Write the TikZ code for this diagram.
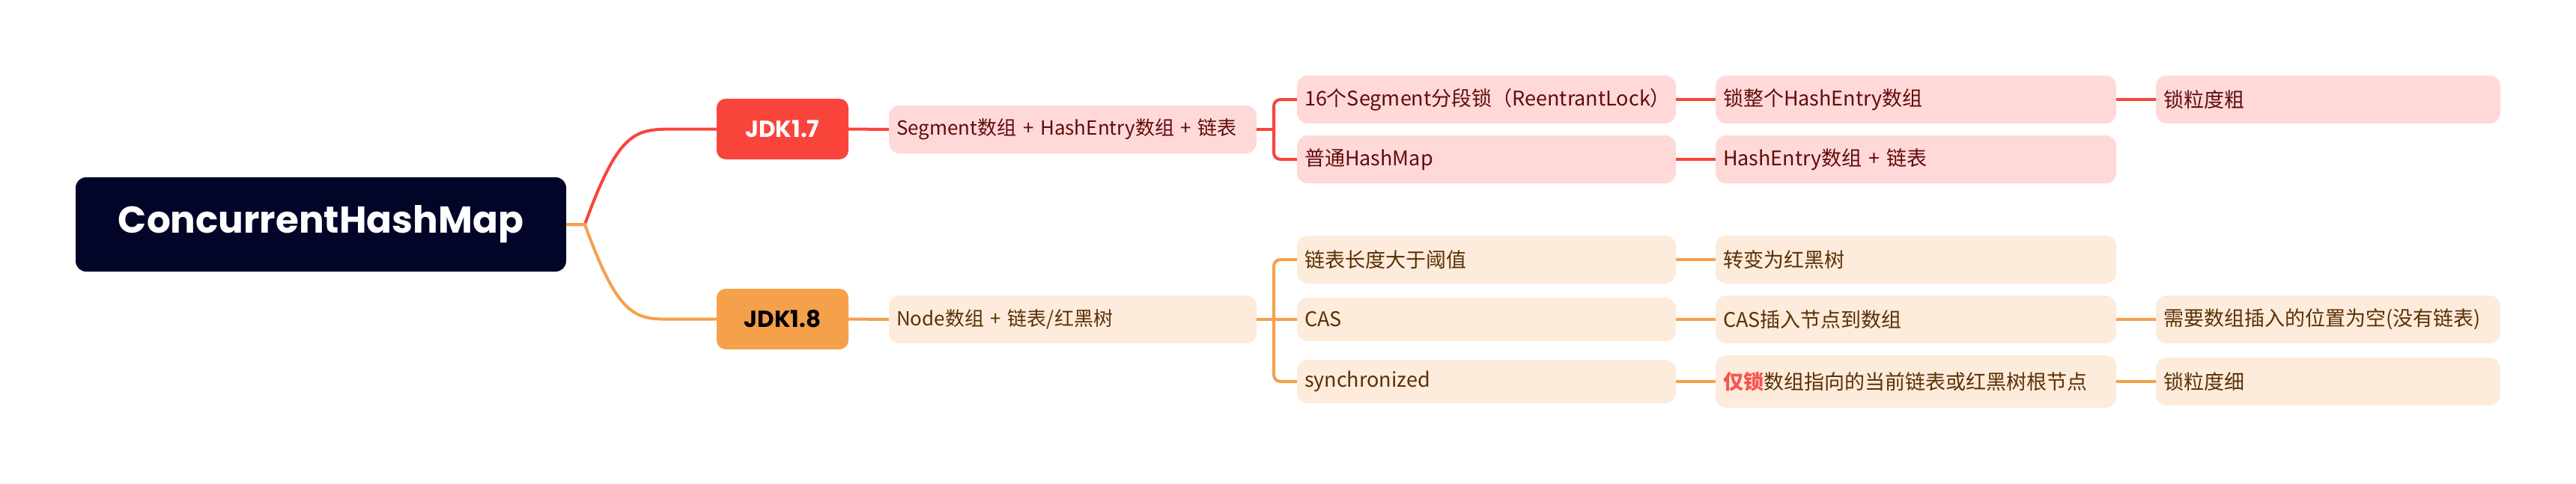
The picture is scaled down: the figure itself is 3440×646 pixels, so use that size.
\documentclass[tikz,border=0pt]{standalone}
\usepackage{fontspec}
\setmainfont{Noto Sans CJK SC}
\newfontfamily\popp{Poppins}
\definecolor{rootc}{HTML}{020428}
\definecolor{redc}{HTML}{F9443C}
\definecolor{orac}{HTML}{F5A04B}
\definecolor{redbg}{HTML}{FFD9D8}
\definecolor{orabg}{HTML}{FDEBDC}
\definecolor{redtx}{HTML}{620B0B}
\definecolor{oratx}{HTML}{5A3103}
\definecolor{hil}{HTML}{F9534F}
\tikzset{
  rootbox/.style={fill=rootc, rounded corners=14pt, text=white, font=\popp\bfseries\fontsize{50}{60}\selectfont, minimum width=655pt, minimum height=126pt, inner sep=0pt},
  jdkbox/.style={rounded corners=12pt, font=\popp\bfseries\fontsize{31}{38}\selectfont, minimum width=176pt, minimum height=81pt, inner sep=0pt},
  rbox/.style={fill=redbg, text=redtx, rounded corners=14pt, font=\fontsize{27}{32}\selectfont, align=left, inner xsep=10pt, inner ysep=0pt},
  obox/.style={fill=orabg, text=oratx, rounded corners=14pt, font=\fontsize{27}{32}\selectfont, align=left, inner xsep=10pt, inner ysep=0pt},
  w3/.style={text width=486pt},
  w4/.style={text width=515pt},
  w5/.style={text width=440pt},
  rl/.style={draw=redc, line width=4pt},
  ol/.style={draw=orac, line width=4pt},
}
\begin{document}
\begin{tikzpicture}[x=1pt,y=-1pt]
\useasboundingbox (0,0) rectangle (3440,646);
% root and level 1
\node[rootbox] (root) at (428.5,300) {ConcurrentHashMap};
\node[jdkbox, fill=redc, text=white] (j17) at (1045,172.5) {JDK1.7};
\node[jdkbox, fill=orac, text=black] (j18) at (1045,426.5) {JDK1.8};
% level 2
\node[rbox, text width=471pt, minimum height=64pt, font=\fontsize{26}{32}\selectfont] (seg) at (1432.5,173) {\mbox{Segment数组 + HashEntry数组 + 链表}};
\node[obox, text width=471pt, minimum height=64pt, font=\fontsize{26}{32}\selectfont] (nod) at (1432.5,427) {Node数组 + 链表/红黑树};
% level 3
\node[rbox, w3, minimum height=64pt] (s16) at (1985,133) {16个Segment分段锁（ReentrantLock）};
\node[rbox, w3, minimum height=64pt] (phm) at (1985,213) {普通HashMap};
\node[obox, w3, minimum height=64pt] (llen) at (1985,347) {链表长度大于阈值};
\node[obox, w3, minimum height=58pt] (cas) at (1985,427) {CAS};
\node[obox, w3, minimum height=58pt] (syn) at (1985,510) {synchronized};
% level 4
\node[rbox, w4, minimum height=64pt] (lhe) at (2558.5,133) {锁整个HashEntry数组};
\node[rbox, w4, minimum height=64pt] (hel) at (2558.5,213) {HashEntry数组 + 链表};
\node[obox, w4, minimum height=64pt] (rbt) at (2558.5,347) {转变为红黑树};
\node[obox, w4, minimum height=64pt] (casi) at (2558.5,427) {CAS插入节点到数组};
\node[obox, w4, minimum height=70pt] (only) at (2558.5,510) {{\bfseries\color{hil}仅锁}数组指向的当前链表或红黑树根节点};
% level 5
\node[rbox, w5, minimum height=64pt] (coarse) at (3109,133) {锁粒度粗};
\node[obox, w5, minimum height=64pt] (empty) at (3109,427) {需要数组插入的位置为空(没有链表)};
\node[obox, w5, minimum height=64pt] (fine) at (3109,510) {锁粒度细};
% trunk coordinates
\coordinate (rj) at (781,300);
\coordinate (t17) at (1701,173);
\coordinate (t18) at (1701,427);
% root connectors
\draw[rl] (root.east) -- (rj) .. controls (828,170) and (850,173) .. ([xshift=-54pt]j17.west) -- (j17.west);
\draw[ol] (root.east) -- (rj) .. controls (828,430) and (850,427) .. ([xshift=-54pt]j18.west) -- (j18.west);
% level 1 -> 2
\draw[rl] (j17.east) -- (seg.west);
\draw[ol] (j18.east) -- (nod.west);
% level 2 -> 3
\draw[rl] (seg.east) -- (t17);
\draw[rl, rounded corners=9pt] (t17) |- (s16.west);
\draw[rl, rounded corners=9pt] (t17) |- (phm.west);
\draw[ol] (nod.east) -- (t18);
\draw[ol, rounded corners=9pt] (t18) |- (llen.west);
\draw[ol] (t18) -- (cas.west);
\draw[ol, rounded corners=9pt] (t18) |- (syn.west);
% level 3 -> 4
\draw[rl] (s16.east) -- (lhe.west);
\draw[rl] (phm.east) -- (hel.west);
\draw[ol] (llen.east) -- (rbt.west);
\draw[ol] (cas.east) -- (casi.west);
\draw[ol] (syn.east) -- (only.west);
% level 4 -> 5
\draw[rl] (lhe.east) -- (coarse.west);
\draw[ol] (casi.east) -- (empty.west);
\draw[ol] (only.east) -- (fine.west);
\end{tikzpicture}
\end{document}
